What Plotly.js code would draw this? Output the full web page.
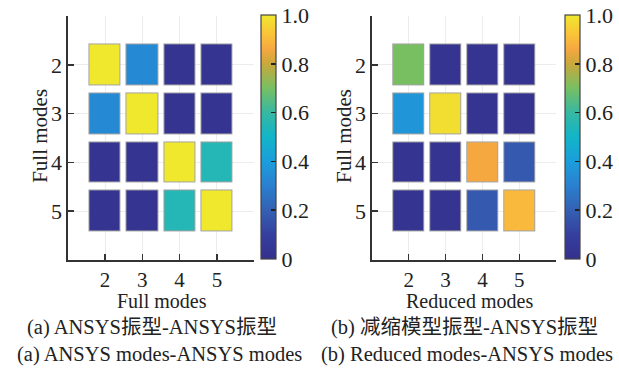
<!DOCTYPE html>
<html>
<head>
<meta charset="utf-8">
<script src="https://cdn.plot.ly/plotly-3.0.1.min.js"></script>
<style>html,body{margin:0;padding:0;background:#fff;}#plot{width:619px;height:368px;}</style>
</head>
<body>
<div id="plot"></div>
<script>
const modes = [2, 3, 4, 5];
const tickLabels = ['2', '3', '4', '5'];
const macFull = [
  [1.00, 0.33, 0.03, 0.03],
  [0.33, 1.00, 0.03, 0.03],
  [0.03, 0.03, 1.00, 0.55],
  [0.03, 0.03, 0.55, 1.00]
];
const macReduced = [
  [0.70, 0.03, 0.03, 0.03],
  [0.37, 0.98, 0.03, 0.03],
  [0.03, 0.03, 0.86, 0.18],
  [0.03, 0.03, 0.18, 0.90]
];
const cbTickVals = [0, 0.2, 0.4, 0.6, 0.8, 1.0];
const cbTickText = ['0', '0.2', '0.4', '0.6', '0.8', '1.0'];
const xTitles = ['Full modes', 'Reduced modes'];
const yTitle = 'Full modes';
const captionsCN = ['(a) ANSYS振型-ANSYS振型', '(b) 减缩模型振型-ANSYS振型'];
const captionsEN = ['(a) ANSYS modes-ANSYS modes', '(b) Reduced modes-ANSYS modes'];

const W = 619, H = 368;
const serif = 'Liberation Serif';
const cnFont = 'Liberation Serif, Noto Sans CJK SC';
const colorscale = [
  [0.0, '#35308c'],
  [0.1, '#353f9e'],
  [0.2, '#3460b3'],
  [0.3, '#2a80cf'],
  [0.4, '#1b9edb'],
  [0.5, '#12b5c8'],
  [0.6, '#36b8a2'],
  [0.7, '#78bf62'],
  [0.8, '#c9a83c'],
  [0.86, '#f6a840'],
  [0.92, '#fbc23a'],
  [1.0, '#efe82d']
];
const borderScale = [[0, '#a4a4a4'], [1, '#a4a4a4']];

function cb(xpx) {
  return {
    x: xpx / W, xanchor: 'left', xpad: 0, ypad: 0,
    y: 1 - 137 / H, yanchor: 'middle',
    thickness: 15, thicknessmode: 'pixels',
    len: 244, lenmode: 'pixels',
    outlinecolor: '#444', outlinewidth: 1.2,
    ticks: 'inside', ticklen: 5, tickwidth: 1.5, tickcolor: '#222',
    tickvals: cbTickVals, ticktext: cbTickText,
    tickfont: {family: serif, size: 22, color: '#222'}
  };
}

function border(z, xa, ya) {
  return {type: 'heatmap', x: modes, y: modes, z: z, xaxis: xa, yaxis: ya,
    zmin: 0, zmax: 1, colorscale: borderScale, xgap: 5, ygap: 7,
    showscale: false, hoverinfo: 'skip'};
}

const traces = [
  border(macFull, 'x', 'y'),
  {type: 'heatmap', x: modes, y: modes, z: macFull, xaxis: 'x', yaxis: 'y',
   zmin: 0, zmax: 1, colorscale: colorscale, xgap: 7, ygap: 9,
   colorbar: cb(262), showscale: true},
  border(macReduced, 'x2', 'y2'),
  {type: 'heatmap', x: modes, y: modes, z: macReduced, xaxis: 'x2', yaxis: 'y2',
   zmin: 0, zmax: 1, colorscale: colorscale, xgap: 7, ygap: 9,
   colorbar: cb(567), showscale: true}
];

function xa(domain) {
  return {
    domain: domain, range: [1, 6], tickvals: modes, ticktext: tickLabels,
    ticks: 'inside', ticklen: 6, tickwidth: 1.5, tickcolor: '#333',
    showline: true, linecolor: '#333', linewidth: 1.5,
    showgrid: true, gridcolor: '#ececec', gridwidth: 1, zeroline: false,
    tickfont: {family: serif, size: 21, color: '#222'}
  };
}
function ya(domain, anchor) {
  return {
    domain: domain, range: [6, 1], tickvals: modes, ticktext: tickLabels,
    anchor: anchor,
    ticks: 'inside', ticklen: 6, tickwidth: 1.5, tickcolor: '#333',
    showline: true, linecolor: '#333', linewidth: 1.5,
    showgrid: true, gridcolor: '#ececec', gridwidth: 1, zeroline: false,
    tickfont: {family: serif, size: 22, color: '#222'}
  };
}

function label(text, xpx, ypx, font, angle) {
  return {text: text, x: xpx / W, y: 1 - ypx / H, xref: 'paper', yref: 'paper',
    showarrow: false, xanchor: 'center', yanchor: 'middle', textangle: angle || 0,
    font: font, borderpad: 0};
}

const yDom = [1 - 260 / H, 1 - 16 / H];
const titleFont = {family: serif, size: 20, color: '#222'};
const capFont = (fam) => ({family: fam, size: 20.5, color: '#222'});
const layout = {
  width: W, height: H,
  margin: {l: 0, r: 0, t: 0, b: 0},
  font: {family: serif, color: '#222'},
  paper_bgcolor: '#fff', plot_bgcolor: '#fff',
  showlegend: false,
  xaxis: Object.assign(xa([68 / W, 255 / W]), {anchor: 'y'}),
  yaxis: ya(yDom, 'x'),
  xaxis2: Object.assign(xa([373 / W, 558 / W]), {anchor: 'y2'}),
  yaxis2: ya(yDom, 'x2'),
  annotations: [
    label(xTitles[0], 163, 301, titleFont),
    label(xTitles[1], 471, 301, titleFont),
    label(yTitle, 40, 136, {family: serif, size: 21, color: '#222'}, -90),
    label(yTitle, 345, 136, {family: serif, size: 21, color: '#222'}, -90),
    label(captionsCN[0], 152, 327, capFont(cnFont)),
    label(captionsCN[1], 466, 327, capFont(cnFont)),
    label(captionsEN[0], 160, 354, capFont(serif)),
    label(captionsEN[1], 469, 354, capFont(serif))
  ]
};

Plotly.newPlot('plot', traces, layout, {displayModeBar: false, staticPlot: true});
</script>
</body>
</html>
